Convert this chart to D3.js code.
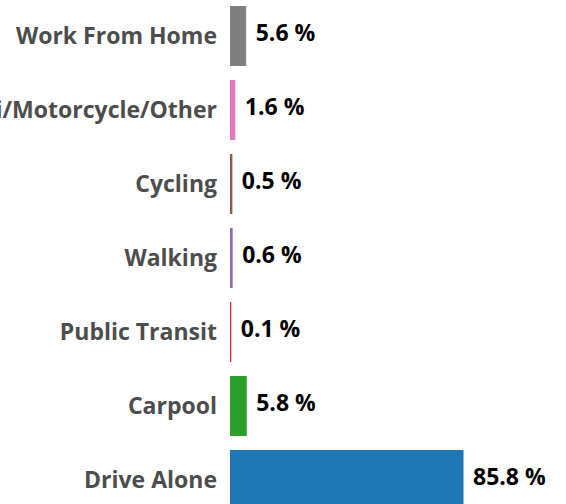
<!DOCTYPE html>
<html>
<head>
<meta charset="utf-8">
<script src="https://cdn.jsdelivr.net/npm/d3@7"></script>
<style>
  html, body { margin: 0; padding: 0; background: #fff; overflow: hidden; }
  svg { display: block; }
  .cat { font-family: "Open Sans", sans-serif; font-weight: 700; fill: #4d4d4d; }
  .val { font-family: "Open Sans", sans-serif; font-weight: 700; fill: #000; }
</style>
</head>
<body>
<script>
const categories = ["Drive Alone", "Carpool", "Public Transit", "Walking", "Cycling", "Taxi/Motorcycle/Other", "Work From Home"];
const values = [85.8, 5.8, 0.1, 0.6, 0.5, 1.6, 5.6];
const colors = ["#1f77b4", "#2ca02c", "#d62728", "#9467bd", "#8c564b", "#e377c2", "#7f7f7f"];

const W = 566, H = 504;
const svg = d3.select("body").append("svg").attr("width", W).attr("height", H);

const data = categories.map((c, i) => ({ cat: c, val: values[i], color: colors[i] }));

const x = d3.scaleLinear().domain([0, 85.8]).range([230.5, 463]);
const y = d3.scaleBand()
  .domain(categories.slice().reverse())
  .range([-1, 517])
  .paddingInner(14 / 74)
  .paddingOuter(7 / 74);

svg.selectAll("rect.bar").data(data).join("rect")
  .attr("class", "bar")
  .attr("x", x(0))
  .attr("y", d => y(d.cat) + 0.5)
  .attr("width", d => x(d.val) - x(0))
  .attr("height", y.bandwidth() - 1)
  .attr("fill", d => d.color)
  .attr("stroke", d => d.color)
  .attr("stroke-width", 1);

svg.selectAll("text.cat").data(data).join("text")
  .attr("class", "cat")
  .attr("x", 217)
  .attr("y", d => y(d.cat) + y.bandwidth() / 2)
  .attr("dy", "0.35em")
  .attr("text-anchor", "end")
  .attr("font-size", 23)
  .text(d => d.cat);

svg.selectAll("text.val").data(data).join("text")
  .attr("class", "val")
  .attr("x", d => x(d.val) + 10)
  .attr("y", d => y(d.cat) + y.bandwidth() / 2 - 3)
  .attr("dy", "0.35em")
  .attr("font-size", 23)
  .text(d => d3.format(".1f")(d.val) + " %");
</script>
</body>
</html>
